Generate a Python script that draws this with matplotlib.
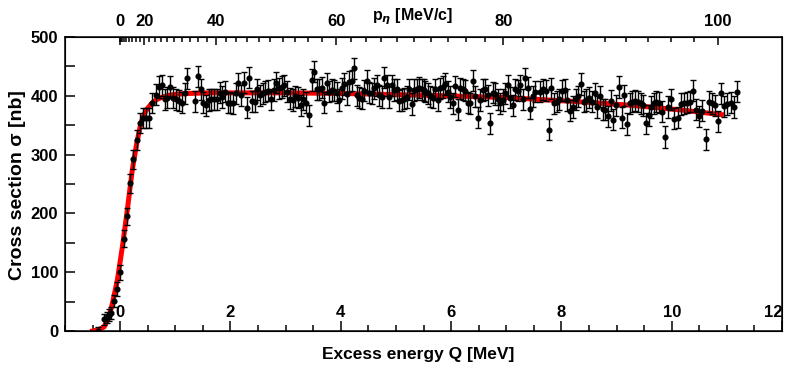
import numpy as np
import matplotlib
matplotlib.use('Agg')
import matplotlib.pyplot as plt
from matplotlib.ticker import MultipleLocator, FixedLocator

plt.rcParams['font.family'] = ['Liberation Sans', 'DejaVu Sans']
plt.rcParams['font.weight'] = 'bold'

# threshold region (explicit Q, sigma, error)
q_rise = [-0.40, -0.29, -0.24, -0.20, -0.17, -0.11, -0.05, 0.00, 0.07, 0.13,
          0.18, 0.24, 0.30, 0.36, 0.42, 0.47, 0.52, 0.58]
sig_rise = [0, 20, 23, 27, 30, 51, 71, 100, 157, 195,
            251, 292, 325, 354, 362, 363, 362, 388]
err_rise = [6, 9, 9, 10, 10, 11, 12, 13, 14, 15, 16, 16, 17, 17, 17, 17, 17, 17]

# plateau, evenly binned in Q: (Q first, Q last) and sigma values per stretch
rng_a = (0.65, 1.22)
sig_a = [402, 415, 418, 394, 397, 415, 397, 394, 392, 388, 404, 430]
rng_b = (1.36, 3.42)
sig_b = [391, 433, 411, 388, 384, 393, 394, 394, 394, 405, 398, 407, 388, 388, 387,
         404, 421, 401, 422, 380, 431, 391, 390, 411, 401, 404, 407, 409, 394, 410,
         422, 413, 415, 418, 407, 395, 393, 399, 397, 384, 394, 388, 367]
rng_c = (3.47, 5.51)
sig_c = [427, 441, 411, 411, 414, 388, 421, 407, 410, 409, 405, 393, 413, 420, 403,
         424, 426, 447, 401, 397, 395, 409, 426, 405, 404, 413, 418, 401, 398, 431,
         418, 398, 418, 410, 411, 392, 393, 395, 398, 411, 386, 410, 411, 414, 411, 410]
rng_d = (5.53, 7.53)
sig_d = [407, 404, 399, 397, 411, 393, 413, 415, 420, 407, 398, 387, 416, 376, 413,
         411, 409, 388, 387, 426, 399, 363, 393, 410, 411, 401, 353, 405, 403, 394,
         387, 393, 404, 418, 397, 384, 411, 409, 418, 394, 430, 414, 378, 399, 407]
rng_e = (7.62, 9.68)
sig_e = [407, 411, 409, 342, 413, 387, 390, 394, 409, 410, 393, 375, 381, 394, 399,
         420, 390, 393, 397, 390, 404, 381, 399, 377, 376, 365, 392, 359, 384, 415,
         363, 401, 352, 387, 390, 392, 390, 387, 384, 353, 367, 381, 387]
rng_f = (9.71, 11.18)
sig_f = [390, 388, 373, 330, 381, 394, 361, 363, 386, 387, 388, 390, 409, 376, 365,
         375, 326, 390, 387, 384, 357, 404, 382, 386, 388, 381, 407]
err_plateau = 18

# fit curve
fit_q = [-0.50, -0.40, -0.29, -0.20, -0.14, -0.05, 0.04, 0.13, 0.22, 0.30, 0.375,
         0.44, 0.50, 0.58, 0.65, 0.77, 0.89, 1.05, 1.25, 1.6, 2.0, 3.0, 4.0, 5.5,
         7.0, 8.3, 9.25, 10.16, 10.9]
fit_s = [0, 2, 7, 25, 47, 87, 143, 206, 274, 319, 353, 370, 379, 388, 393, 398,
         401, 403, 404, 405, 405, 405, 404, 401, 397, 390, 384, 376, 368]

q_ticks = [0, 2, 4, 6, 8, 10, 12]
p_major = [0, 20, 40, 60, 80, 100]

m_eta, m_he = 547.86, 2808.39
def p_to_q(p):
    p = np.asarray(p, dtype=float)
    return np.sqrt(p**2 + m_eta**2) + np.sqrt(p**2 + m_he**2) - m_eta - m_he

q = list(q_rise)
sig = list(sig_rise)
err = list(err_rise)
for r, s in [(rng_a, sig_a), (rng_b, sig_b), (rng_c, sig_c), (rng_d, sig_d), (rng_e, sig_e), (rng_f, sig_f)]:
    q += list(np.linspace(r[0], r[1], len(s)))
    sig += s
    err += [err_plateau] * len(s)

fig = plt.figure(figsize=(8.07, 3.69), dpi=100)
ax = fig.add_axes([65/807, 38/369, 717/807, 294/369])

ax.plot(fit_q, fit_s, color='red', lw=3.6, zorder=2)
ax.errorbar(q, sig, yerr=err, fmt='o', color='black', ms=3.4, capsize=2.5,
            elinewidth=1.0, capthick=1.0, zorder=3)

ax.set_xlim(-1, 12)
ax.set_ylim(0, 500)
ax.set_xticks(q_ticks)
ax.set_xticklabels([str(v) for v in q_ticks], fontsize=12, fontweight='bold')
ax.get_xticklabels()[-1].set_horizontalalignment('right')
ax.xaxis.set_minor_locator(MultipleLocator(0.5))
ax.yaxis.set_major_locator(MultipleLocator(100))
ax.yaxis.set_minor_locator(MultipleLocator(50))
ax.tick_params(axis='x', which='both', direction='in', top=False, pad=-19, width=1.1)
ax.tick_params(axis='x', which='major', length=7)
ax.tick_params(axis='x', which='minor', length=4.5)
ax.tick_params(axis='y', which='both', direction='in', right=False, length=7, pad=5, labelsize=12, width=1.1)
for lab in ax.get_yticklabels():
    lab.set_fontweight('bold')
for sp in ax.spines.values():
    sp.set_linewidth(1.1)

ax.set_xlabel('Excess energy Q [MeV]', fontsize=12.5, fontweight='bold')
ax.xaxis.set_label_coords(0.492, -0.055)
ax.set_ylabel('Cross section σ [nb]', fontsize=14, fontweight='bold')
ax.yaxis.set_label_coords(-0.055, 0.497)

ax2 = ax.twiny()
ax2.set_xlim(-1, 12)
ax2.xaxis.set_major_locator(FixedLocator(p_to_q(p_major)))
ax2.set_xticklabels([str(p) for p in p_major], fontsize=12, fontweight='bold')
p_minor = [p for p in range(0, 101, 2) if p not in p_major]
ax2.xaxis.set_minor_locator(FixedLocator(p_to_q(p_minor)))
ax2.tick_params(axis='x', which='both', direction='in', pad=6, width=1.1)
ax2.tick_params(axis='x', which='major', length=6)
ax2.tick_params(axis='x', which='minor', length=3.5)
ax2.set_xlabel(r'p$_{\eta}$ [MeV/c]', fontsize=11.5, fontweight='bold')
ax2.xaxis.set_label_coords(0.485, 1.058)

fig.savefig('out.png', dpi=100)
